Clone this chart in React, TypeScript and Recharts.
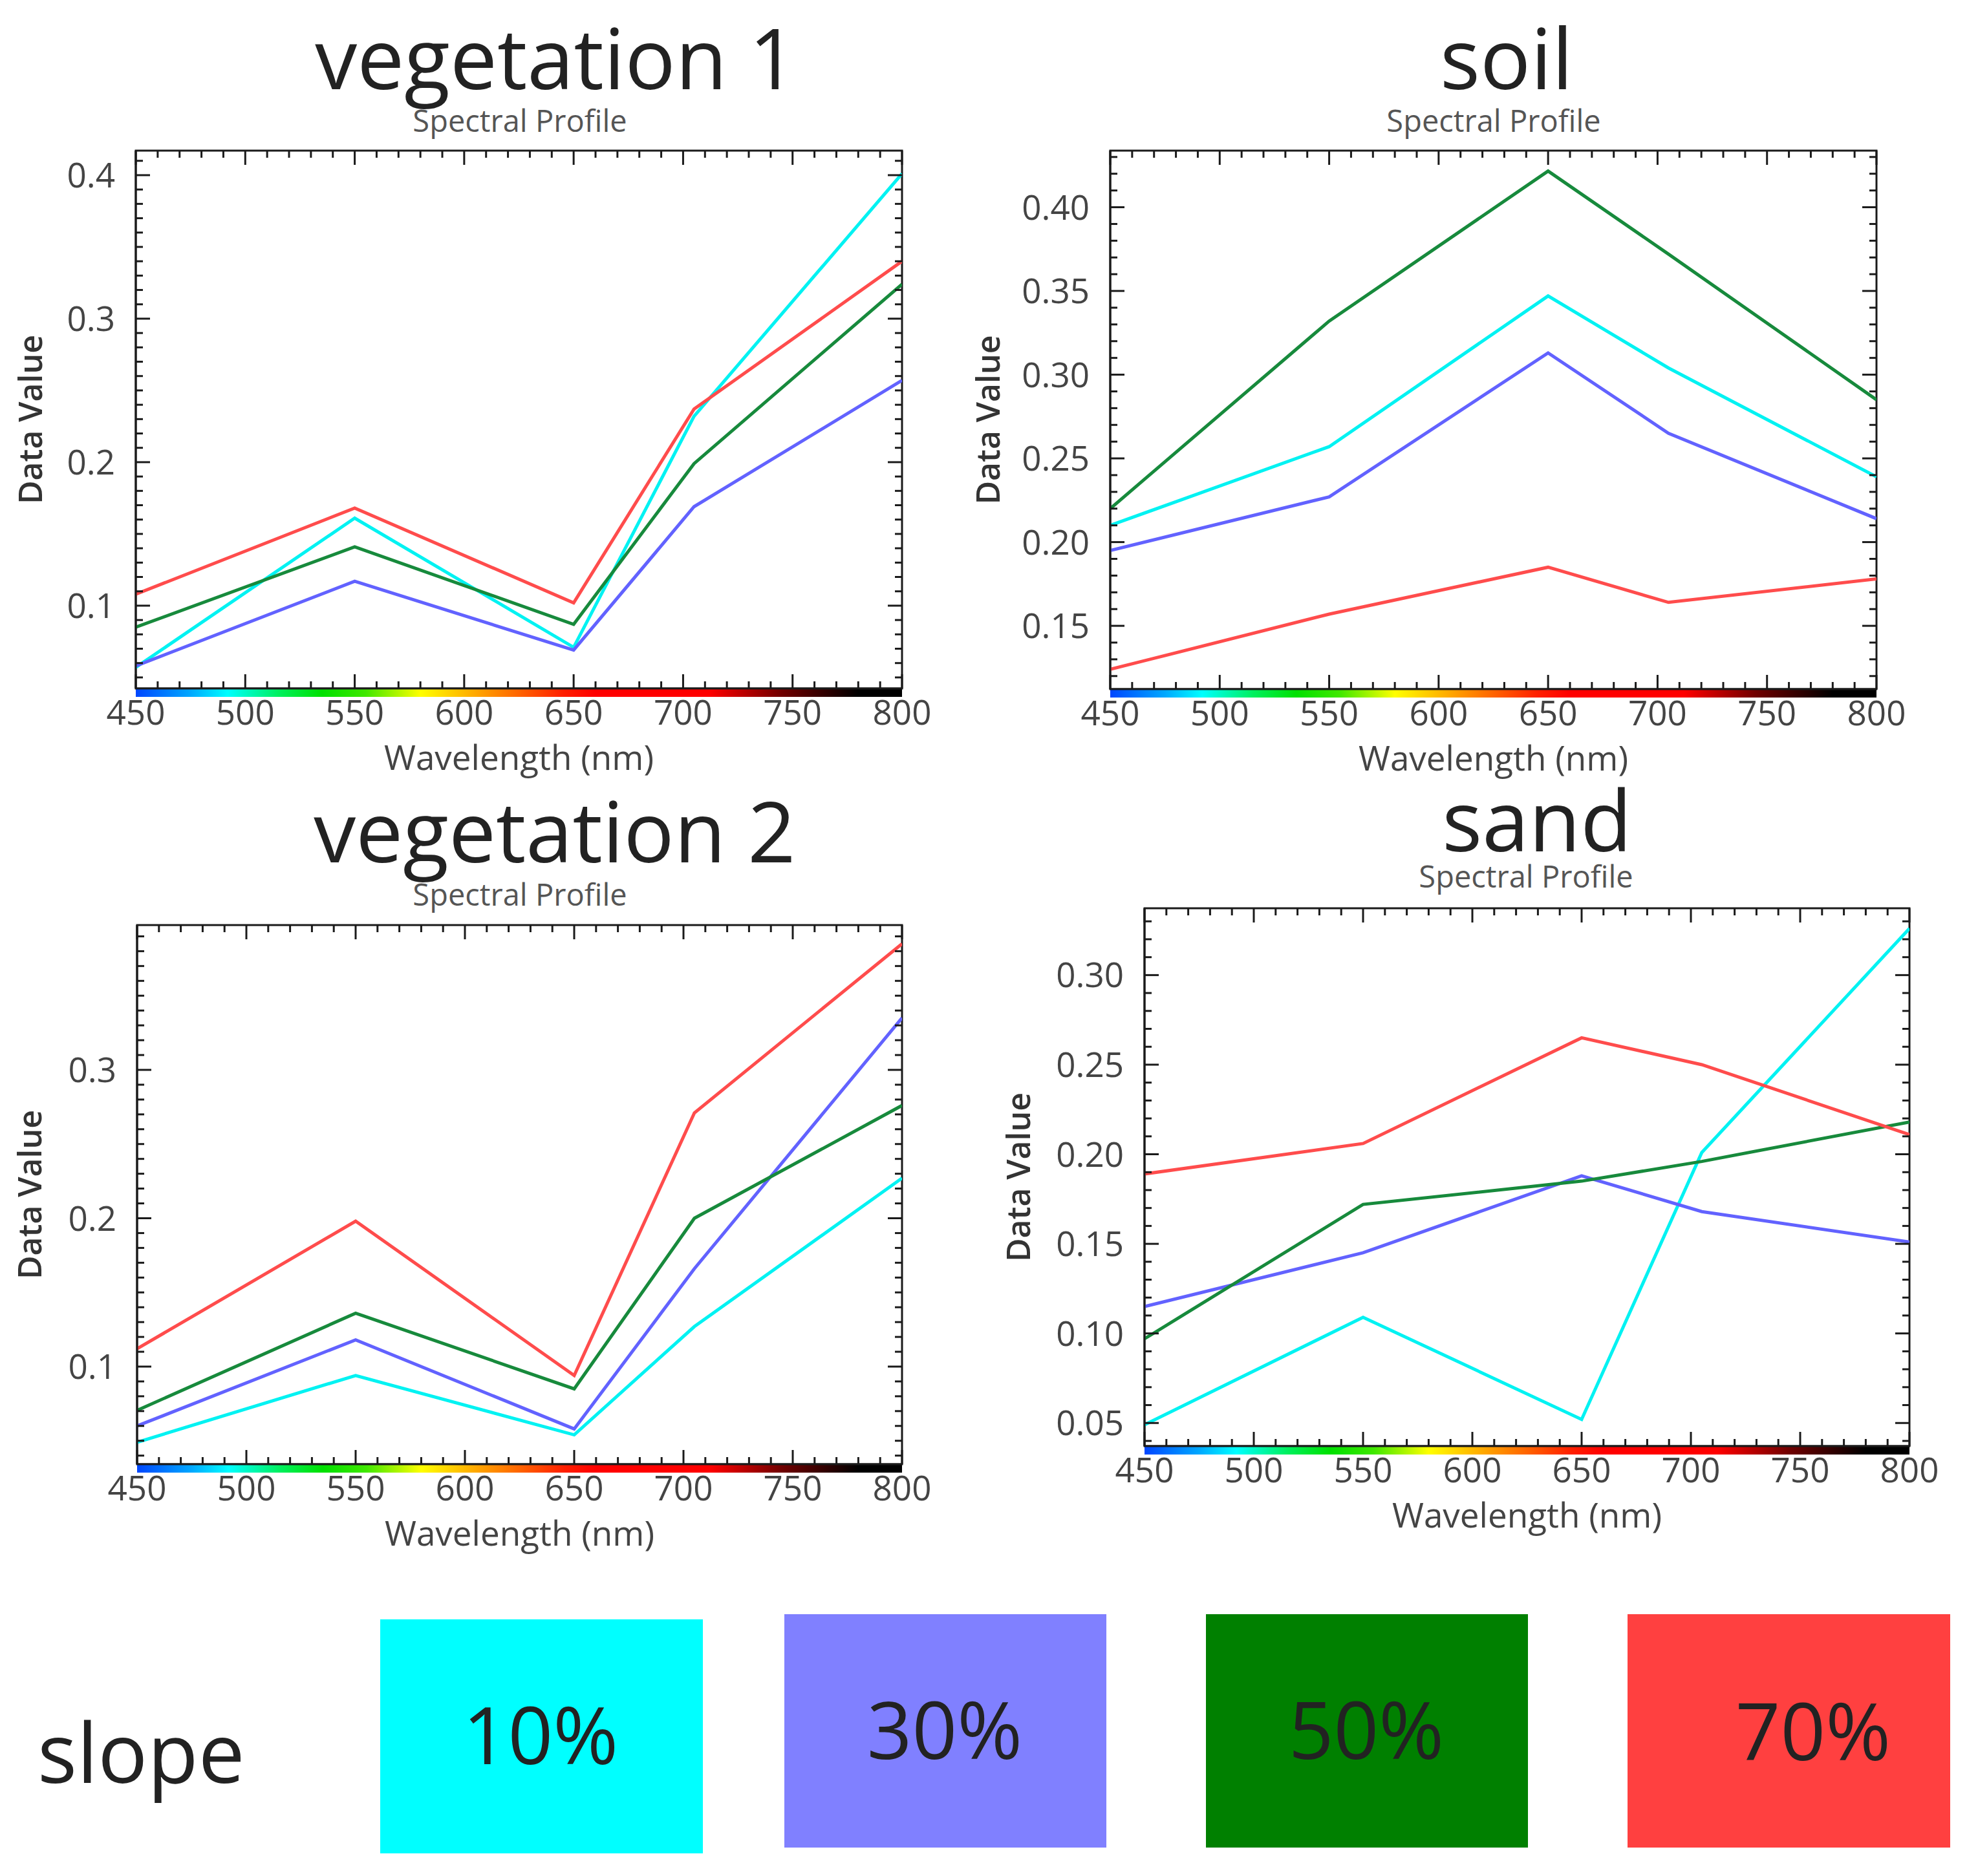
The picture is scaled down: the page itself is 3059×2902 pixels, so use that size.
import React from 'react';
import { LineChart, Line, XAxis, YAxis, ReferenceArea } from 'recharts';

// ---------- data ----------
const wavelengths = [450, 550, 650, 705, 800];
const xMajorTicks = [450, 500, 550, 600, 650, 700, 750, 800];
const slopeLabels = ['10%', '30%', '50%', '70%'];
const lineColors = ['#00f2f2', '#6262ff', '#178a3c', '#ff4c4c'];
const legendColors = ['#00ffff', '#8080ff', '#008000', '#ff4040'];

const veg1Slope10 = [0.057, 0.161, 0.071, 0.232, 0.401];
const veg1Slope30 = [0.058, 0.117, 0.069, 0.169, 0.257];
const veg1Slope50 = [0.085, 0.141, 0.087, 0.199, 0.324];
const veg1Slope70 = [0.108, 0.168, 0.102, 0.237, 0.34];

const soilSlope10 = [0.21, 0.257, 0.347, 0.304, 0.239];
const soilSlope30 = [0.195, 0.227, 0.313, 0.265, 0.214];
const soilSlope50 = [0.22, 0.332, 0.4216, 0.372, 0.285];
const soilSlope70 = [0.124, 0.157, 0.185, 0.164, 0.178];

const veg2Slope10 = [0.049, 0.094, 0.054, 0.127, 0.227];
const veg2Slope30 = [0.06, 0.118, 0.058, 0.166, 0.335];
const veg2Slope50 = [0.0705, 0.136, 0.085, 0.2, 0.276];
const veg2Slope70 = [0.112, 0.198, 0.094, 0.271, 0.385];

const sandSlope10 = [0.049, 0.109, 0.052, 0.201, 0.326];
const sandSlope30 = [0.115, 0.145, 0.188, 0.168, 0.151];
const sandSlope50 = [0.097, 0.172, 0.185, 0.196, 0.218];
const sandSlope70 = [0.189, 0.206, 0.265, 0.25, 0.211];

const veg1YTicks = [0.1, 0.2, 0.3, 0.4];
const soilYTicks = [0.15, 0.2, 0.25, 0.3, 0.35, 0.4];
const veg2YTicks = [0.1, 0.2, 0.3];
const sandYTicks = [0.05, 0.1, 0.15, 0.2, 0.25, 0.3];

const veg1Domain = [0.0423, 0.4171];
const soilDomain = [0.1122, 0.4338];
const veg2Domain = [0.0342, 0.3976];
const sandDomain = [0.0371, 0.3373];

// ---------- helpers ----------
const FONT = '"Open Sans", "Noto Sans", sans-serif';
const INK = '#1a1a1a';

function buildRows(s10: number[], s30: number[], s50: number[], s70: number[]) {
  return wavelengths.map((w, i) => ({ w, s10: s10[i], s30: s30[i], s50: s50[i], s70: s70[i] }));
}

function stepTicks(min: number, max: number, step: number) {
  const out: number[] = [];
  const k0 = Math.ceil(min / step - 1e-9);
  const k1 = Math.floor(max / step + 1e-9);
  for (let k = k0; k <= k1; k++) out.push(Math.round(k * step * 10000) / 10000);
  return out;
}

function isIn(v: number, list: number[]) {
  return list.some((t) => Math.abs(t - v) < 1e-6);
}

const gradStops: [number, string][] = [
  [450, '#0046ff'],
  [475, '#00a8ff'],
  [492, '#00ffff'],
  [515, '#00f060'],
  [535, '#00e000'],
  [555, '#40e800'],
  [580, '#ffff00'],
  [612, '#ff9000'],
  [645, '#ff2000'],
  [660, '#ff0000'],
  [712, '#ff0000'],
  [745, '#700000'],
  [780, '#000000'],
  [800, '#000000'],
];

type PanelProps = {
  id: string;
  rows: any[];
  yDomain: number[];
  yMajor: number[];
  decimals: number;
  chartLeft: number;
  plotL: number;
  plotT: number;
  plotR: number;
  plotB: number;
  yLabelX: number;
};

const TOPM = 30;
const RIGHTM = 60;
const XAXIS_H = 150;

function Panel(p: PanelProps) {
  const chartTop = p.plotT - TOPM;
  const width = p.plotR + RIGHTM - p.chartLeft;
  const height = p.plotB + XAXIS_H - chartTop;
  const yAxisW = p.plotL - p.chartLeft;
  const plotH = p.plotB - p.plotT;
  const plotW = p.plotR - p.plotL;
  const xTicks = stepTicks(450, 800, 10);
  const yTicks = stepTicks(p.yDomain[0], p.yDomain[1], 0.01);
  const barH = ((p.yDomain[1] - p.yDomain[0]) * 13) / plotH;
  const gradId = 'spec-' + p.id;
  const axisStroke = { stroke: INK, strokeWidth: 3 };

  const bottomTick = (t: any) => {
    const v = t.payload.value;
    const major = isIn(v, xMajorTicks);
    const len = major ? 22 : 11;
    const top = t.y - plotH;
    return (
      <g>
        <line x1={t.x} x2={t.x} y1={t.y} y2={t.y - len} stroke={INK} strokeWidth={3} />
        <line x1={t.x} x2={t.x} y1={top} y2={top + len} stroke={INK} strokeWidth={3} />
        {major && (
          <text x={t.x} y={t.y + 56} textAnchor="middle" fontSize={53} fill="#444" fontFamily={FONT}>
            {v}
          </text>
        )}
      </g>
    );
  };
  const leftTick = (t: any) => {
    const v = t.payload.value;
    const major = isIn(v, p.yMajor);
    const len = major ? 22 : 11;
    const right = t.x + plotW;
    return (
      <g>
        <line x1={t.x} x2={t.x + len} y1={t.y} y2={t.y} stroke={INK} strokeWidth={3} />
        <line x1={right} x2={right - len} y1={t.y} y2={t.y} stroke={INK} strokeWidth={3} />
        {major && (
          <text x={t.x - 32} y={t.y} dy="0.36em" textAnchor="end" fontSize={53} fill="#444" fontFamily={FONT}>
            {v.toFixed(p.decimals)}
          </text>
        )}
      </g>
    );
  };

  const xLabel = () => (
    <text
      x={yAxisW + plotW / 2}
      y={TOPM + plotH + 126}
      textAnchor="middle"
      fontSize={53}
      fill="#444"
      fontFamily={FONT}
    >
      Wavelength (nm)
    </text>
  );
  const yLabel = () => {
    const cx = p.yLabelX - p.chartLeft;
    const cy = TOPM + plotH / 2;
    return (
      <text
        x={cx}
        y={cy}
        dy="0.36em"
        textAnchor="middle"
        fontSize={50}
        fontWeight={600}
        fill="#333"
        fontFamily={FONT}
        transform={`rotate(-90 ${cx} ${cy})`}
      >
        Data Value
      </text>
    );
  };

  return (
    <div style={{ position: 'absolute', left: p.chartLeft, top: chartTop }}>
      <LineChart width={width} height={height} data={p.rows} margin={{ top: TOPM, right: RIGHTM, left: 0, bottom: 0 }}>
        <defs>
          <linearGradient id={gradId} x1="0" y1="0" x2="1" y2="0">
            {gradStops.map(([nm, c]) => (
              <stop key={nm} offset={(nm - 450) / 350} stopColor={c} />
            ))}
          </linearGradient>
        </defs>
        <XAxis
          xAxisId="b"
          dataKey="w"
          type="number"
          domain={[450, 800]}
          allowDataOverflow
          ticks={xTicks}
          interval={0}
          tickSize={0}
          tickMargin={0}
          tickLine={false}
          tick={bottomTick}
          axisLine={axisStroke}
          height={XAXIS_H}
          label={xLabel}
        />
        <YAxis
          yAxisId="l"
          type="number"
          domain={p.yDomain}
          allowDataOverflow
          ticks={yTicks}
          interval={0}
          tickSize={0}
          tickMargin={0}
          tickLine={false}
          tick={leftTick}
          axisLine={axisStroke}
          width={yAxisW}
          label={yLabel}
        />
        <ReferenceArea
          xAxisId="b"
          yAxisId="l"
          x1={450}
          x2={800}
          y1={p.yDomain[0]}
          y2={p.yDomain[1]}
          ifOverflow="visible"
          fill="none"
          stroke={INK}
          strokeWidth={3}
        />
        <ReferenceArea
          xAxisId="b"
          yAxisId="l"
          x1={450}
          x2={800}
          y1={p.yDomain[0] - barH}
          y2={p.yDomain[0]}
          ifOverflow="visible"
          fill={`url(#${gradId})`}
          fillOpacity={1}
          stroke="none"
        />
        {['s10', 's30', 's50', 's70'].map((k, i) => (
          <Line
            key={k}
            xAxisId="b"
            yAxisId="l"
            type="linear"
            dataKey={k}
            stroke={lineColors[i]}
            strokeWidth={5}
            dot={false}
            activeDot={false}
            isAnimationActive={false}
          />
        ))}
      </LineChart>
    </div>
  );
}

const titles = [
  { text: 'vegetation 1', x: 860, y: 138 },
  { text: 'soil', x: 2330, y: 138 },
  { text: 'vegetation 2', x: 858, y: 1334 },
  { text: 'sand', x: 2377, y: 1317 },
];
const subtitles = [
  { x: 804, y: 204 },
  { x: 2310, y: 204 },
  { x: 804, y: 1401 },
  { x: 2360, y: 1373 },
];
const legendBoxes = [
  { x: 588, y: 2505, w: 499, h: 362, tx: 836, ty: 2729 },
  { x: 1213, y: 2497, w: 498, h: 361, tx: 1461, ty: 2721 },
  { x: 1865, y: 2497, w: 498, h: 361, tx: 2113, ty: 2721 },
  { x: 2517, y: 2497, w: 499, h: 361, tx: 2804, ty: 2723 },
];

export default function App() {
  return (
    <div style={{ position: 'relative', width: 3059, height: 2902, background: '#fff', overflow: 'hidden' }}>
      <style>{'body{margin:0;background:#fff;}'}</style>
      <svg width={3059} height={2902} style={{ position: 'absolute', left: 0, top: 0 }}>
        {titles.map((t) => (
          <text key={t.text} x={t.x} y={t.y} textAnchor="middle" fontSize={130} fill="#222" fontFamily={FONT}>
            {t.text}
          </text>
        ))}
        {subtitles.map((s, i) => (
          <text key={i} x={s.x} y={s.y} textAnchor="middle" fontSize={47} fill="#555" fontFamily={FONT}>
            Spectral Profile
          </text>
        ))}
        <text x={58} y={2758} fontSize={128} fill="#222" fontFamily={FONT}>
          slope
        </text>
        {legendBoxes.map((b, i) => (
          <g key={i}>
            <rect x={b.x} y={b.y} width={b.w} height={b.h} fill={legendColors[i]} />
            <text x={b.tx} y={b.ty} textAnchor="middle" fontSize={122} fill="#222" fontFamily={FONT}>
              {slopeLabels[i]}
            </text>
          </g>
        ))}
      </svg>
      <Panel
        id="veg1"
        rows={buildRows(veg1Slope10, veg1Slope30, veg1Slope50, veg1Slope70)}
        yDomain={veg1Domain}
        yMajor={veg1YTicks}
        decimals={1}
        chartLeft={0}
        plotL={210}
        plotT={233}
        plotR={1395}
        plotB={1065}
        yLabelX={47}
      />
      <Panel
        id="soil"
        rows={buildRows(soilSlope10, soilSlope30, soilSlope50, soilSlope70)}
        yDomain={soilDomain}
        yMajor={soilYTicks}
        decimals={2}
        chartLeft={1470}
        plotL={1717}
        plotT={233}
        plotR={2902}
        plotB={1066}
        yLabelX={1528}
      />
      <Panel
        id="veg2"
        rows={buildRows(veg2Slope10, veg2Slope30, veg2Slope50, veg2Slope70)}
        yDomain={veg2Domain}
        yMajor={veg2YTicks}
        decimals={1}
        chartLeft={0}
        plotL={212}
        plotT={1431}
        plotR={1395}
        plotB={2265}
        yLabelX={46}
      />
      <Panel
        id="sand"
        rows={buildRows(sandSlope10, sandSlope30, sandSlope50, sandSlope70)}
        yDomain={sandDomain}
        yMajor={sandYTicks}
        decimals={2}
        chartLeft={1500}
        plotL={1770}
        plotT={1405}
        plotR={2953}
        plotB={2237}
        yLabelX={1575}
      />
    </div>
  );
}
